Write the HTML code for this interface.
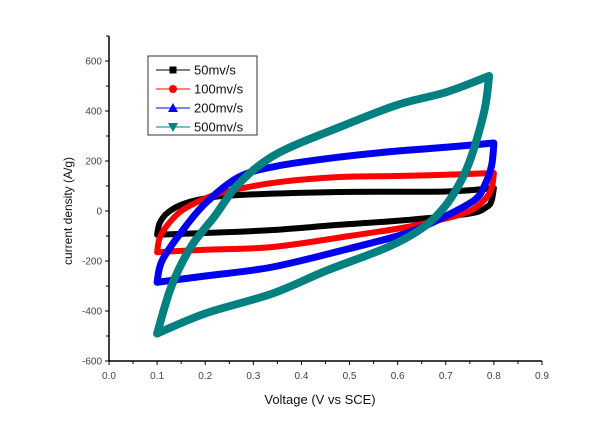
<!DOCTYPE html>
<html><head><meta charset="utf-8"><style>
html,body{margin:0;padding:0;background:#fff;}
svg{display:block;font-family:"Liberation Sans",Arial,sans-serif;}
</style></head><body>
<svg id="chart" width="600" height="423" viewBox="0 0 600 423">
<g id="series"></g>
<g id="axes"></g>
<text x="320" y="404" font-size="13" text-anchor="middle" fill="#111">Voltage (V vs SCE)</text>
<text transform="translate(72,211) rotate(-90)" font-size="12" text-anchor="middle" fill="#111">current density (A/g)</text>
<g id="legend">
<rect x="148" y="56" width="109" height="79" fill="#fff" stroke="#333" stroke-width="1"/>
</g>
</svg>
<script>
const seriesNames=["50mv/s","100mv/s","200mv/s","500mv/s"];
const seriesColors=["#000000","#ff0000","#0000ee","#008080"];
const xTicks=[0.0,0.1,0.2,0.3,0.4,0.5,0.6,0.7,0.8,0.9];
const yTicks=[-600,-400,-200,0,200,400,600];
// forward (upper) and reverse (lower) branches: [voltage, current]
const s50Up=[[0.1,-95],[0.105,-50],[0.12,-10],[0.15,25],[0.2,50],[0.27,64],[0.48,76],[0.7,78],[0.8,92]];
const s50Down=[[0.8,92],[0.795,40],[0.785,16],[0.75,-10],[0.62,-36],[0.48,-55],[0.34,-76],[0.2,-88],[0.1,-95]];
const s100Up=[[0.1,-165],[0.105,-110],[0.12,-60],[0.15,0],[0.2,50],[0.25,80],[0.35,115],[0.48,136],[0.6,140],[0.7,145],[0.8,152]];
const s100Down=[[0.8,152],[0.795,90],[0.78,44],[0.75,0],[0.7,-30],[0.62,-64],[0.5,-100],[0.34,-144],[0.2,-155],[0.1,-165]];
const s200Up=[[0.1,-285],[0.11,-200],[0.15,-85],[0.2,30],[0.27,136],[0.35,180],[0.48,216],[0.6,240],[0.7,255],[0.8,272]];
const s200Down=[[0.8,272],[0.795,180],[0.78,100],[0.76,44],[0.7,-20],[0.62,-88],[0.5,-150],[0.34,-224],[0.2,-260],[0.1,-285]];
const s500Up=[[0.1,-490],[0.13,-300],[0.17,-144],[0.22,-20],[0.27,110],[0.35,230],[0.48,336],[0.6,425],[0.7,475],[0.79,540]];
const s500Down=[[0.79,540],[0.78,400],[0.75,200],[0.72,80],[0.69,0],[0.65,-70],[0.58,-144],[0.45,-240],[0.34,-330],[0.2,-410],[0.1,-490]];

const NS="http://www.w3.org/2000/svg";
const X0=109,X1=542,Y0=211;
function xs(v){return X0+v*(X1-X0)/0.9;}
function ys(v){return Y0-v*0.25;}
function mk(tag,attrs,parent){const e=document.createElementNS(NS,tag);for(const k in attrs)e.setAttribute(k,attrs[k]);parent.appendChild(e);return e;}
function smooth(branch){
  const p=branch.map(d=>[xs(d[0]),ys(d[1])]);
  let s="";
  for(let i=0;i<p.length-1;i++){
    const p0=p[Math.max(0,i-1)],p1=p[i],p2=p[i+1],p3=p[Math.min(p.length-1,i+2)];
    const c1=[p1[0]+(p2[0]-p0[0])/6,p1[1]+(p2[1]-p0[1])/6];
    const c2=[p2[0]-(p3[0]-p1[0])/6,p2[1]-(p3[1]-p1[1])/6];
    s+=(i==0?"M"+p1[0].toFixed(1)+","+p1[1].toFixed(1):"")+" C"+c1.map(n=>n.toFixed(1)).join(",")+" "+c2.map(n=>n.toFixed(1)).join(",")+" "+p2.map(n=>n.toFixed(1)).join(",");
  }
  return s;
}

const sg=document.getElementById('series');
const loops=[[s50Up,s50Down],[s100Up,s100Down],[s200Up,s200Down],[s500Up,s500Down]];
const widths=[6,6,7,8];
const sNames=["series-50mv","series-100mv","series-200mv","series-500mv"];
loops.forEach((lp,i)=>{
  const d=smooth(lp[0])+" "+smooth(lp[1]).replace(/^M/," L")+" Z";
  const el=mk('path',{d:d,fill:"none",stroke:seriesColors[i],"stroke-width":widths[i],"stroke-linejoin":"round"},sg);
  
  
});

const ag=document.getElementById('axes');
const xl=mk('line',{x1:X0,y1:ys(-600),x2:X1,y2:ys(-600),stroke:"#000","stroke-width":1.5},ag);


const yl=mk('line',{x1:X0,y1:36,x2:X0,y2:ys(-600),stroke:"#000","stroke-width":1.5},ag);


for(let k=0;k<=18;k++){
  const v=k*0.05,x=xs(v),len=(k%2==0)?4:3;
  mk('line',{x1:x,y1:ys(-600),x2:x,y2:ys(-600)+len,stroke:"#000","stroke-width":1},ag);
}
xTicks.forEach(v=>{
  const t=mk('text',{x:xs(v),y:ys(-600)+18,"font-size":10,"text-anchor":"middle",fill:"#444"},ag);
  t.textContent=v.toFixed(1);
  
  
});
for(let v=-600;v<=700;v+=100){
  const y=ys(v),len=(v%200==0)?4:3;
  mk('line',{x1:X0-len,y1:y,x2:X0,y2:y,stroke:"#000","stroke-width":1},ag);
}
yTicks.forEach(v=>{
  const t=mk('text',{x:X0-7,y:ys(v)+3.5,"font-size":10,"text-anchor":"end",fill:"#444"},ag);
  t.textContent=String(v);
  
  
});

const lg=document.getElementById('legend');
const rowY=[70,89,108,127];
seriesNames.forEach((n,i)=>{
  const y=rowY[i],c=seriesColors[i];
  const g=mk('g',{},lg);
  
  
  mk('line',{x1:156,y1:y,x2:190,y2:y,stroke:c,"stroke-width":1},g);
  const mx=173;
  if(i==0) mk('rect',{x:mx-3.5,y:y-3.5,width:7,height:7,fill:c},g);
  else if(i==1) mk('circle',{cx:mx,cy:y,r:4,fill:c},g);
  else if(i==2) mk('polygon',{points:`${mx-5},${y+4} ${mx+5},${y+4} ${mx},${y-5}`,fill:c},g);
  else mk('polygon',{points:`${mx-5},${y-4} ${mx+5},${y-4} ${mx},${y+5}`,fill:c},g);
  const t=mk('text',{x:194,y:y+4.5,"font-size":13,fill:"#111"},g);
  t.textContent=n;
});
</script>
</body></html>
